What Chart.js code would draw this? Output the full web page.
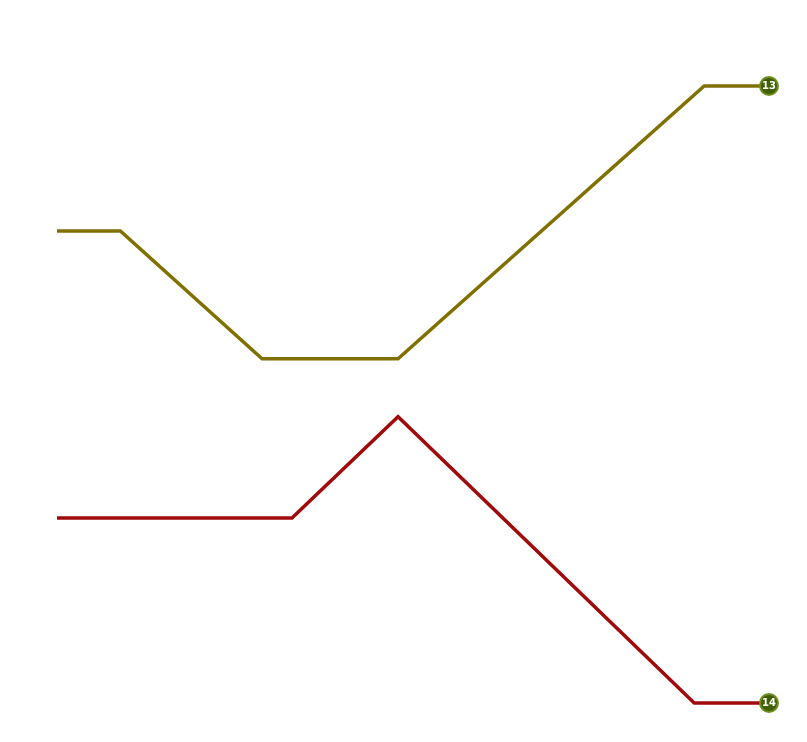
<!DOCTYPE html>
<html>
<head>
<meta charset="utf-8">
<script src="https://cdn.jsdelivr.net/npm/chart.js@4.4.1/dist/chart.umd.min.js"></script>
<style>
  html, body { margin: 0; padding: 0; background: #fff; }
  #wrap { width: 807px; height: 742px; }
</style>
</head>
<body>
<div id="wrap"><canvas id="chart"></canvas></div>
<script>
// ---- data (x: 0-100 along the track, y: 0-100 value) ----
const olivePoints = [
    { x: 0, y: 76.5 },
    { x: 8.9, y: 76.5 },
    { x: 28.8, y: 55.8 },
    { x: 47.9, y: 55.8 },
    { x: 90.9, y: 100 },
    { x: 100, y: 100 }
];
const redPoints = [
    { x: 0, y: 30.0 },
    { x: 33.0, y: 30.0 },
    { x: 47.9, y: 46.4 },
    { x: 89.5, y: 0 },
    { x: 100, y: 0 }
];
const endLabels = ['13', '14'];
const lineColors = ['#807000', '#a00a0a'];

// last point only gets a marker
function endRadius(arr) {
    return arr.map((_, i) => i === arr.length - 1 ? 9 : 0);
}

// badge text on the last point
const endLabelPlugin = {
    id: 'endLabel',
    afterDatasetsDraw(chart) {
        const ctx = chart.ctx;
        chart.data.datasets.forEach((ds, i) => {
            const meta = chart.getDatasetMeta(i);
            const pt = meta.data[meta.data.length - 1];
            ctx.save();
            ctx.fillStyle = '#ffffff';
            ctx.font = 'bold 10px Verdana, "DejaVu Sans", sans-serif';
            ctx.textAlign = 'center';
            ctx.textBaseline = 'middle';
            ctx.fillText(endLabels[i], pt.x, pt.y + 0.5);
            ctx.restore();
        });
    }
};

new Chart(document.getElementById('chart').getContext('2d'), {
    type: 'line',
    data: {
        datasets: [
            {
                data: olivePoints,
                borderColor: lineColors[0],
                borderWidth: 3.5,
                tension: 0,
                clip: false,
                pointRadius: endRadius(olivePoints),
                pointBackgroundColor: '#3f5f00',
                pointBorderColor: '#6f8f1f',
                pointBorderWidth: 2,
                pointHoverRadius: endRadius(olivePoints)
            },
            {
                data: redPoints,
                borderColor: lineColors[1],
                borderWidth: 3.5,
                tension: 0,
                clip: false,
                pointRadius: endRadius(redPoints),
                pointBackgroundColor: '#3f5f00',
                pointBorderColor: '#6f8f1f',
                pointBorderWidth: 2,
                pointHoverRadius: endRadius(redPoints)
            }
        ]
    },
    options: {
        responsive: true,
        maintainAspectRatio: false,
        animation: false,
        layout: { padding: { left: 57, right: 38, top: 86, bottom: 39 } },
        scales: {
            x: { type: 'linear', min: 0, max: 100, display: false },
            y: { type: 'linear', min: 0, max: 100, display: false }
        },
        plugins: {
            legend: { display: false },
            tooltip: { enabled: false }
        }
    },
    plugins: [endLabelPlugin]
});
</script>
</body>
</html>
